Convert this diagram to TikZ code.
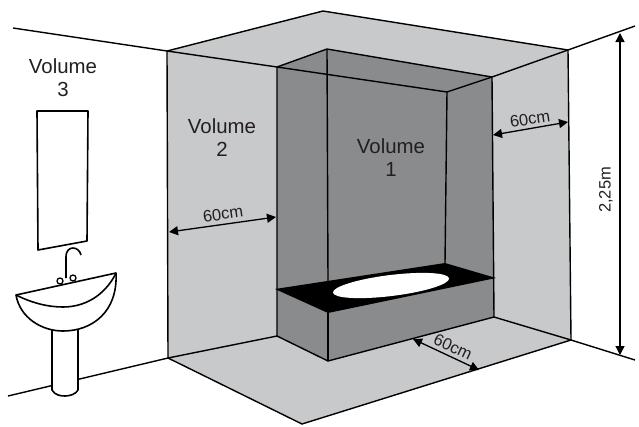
\documentclass[tikz,border=0pt]{standalone}
\usepackage{fontspec}
\setmainfont{Liberation Sans}
\usetikzlibrary{arrows.meta}
\definecolor{lightzone}{HTML}{C8C9CB}
\definecolor{darkzone}{HTML}{8A8B8D}
\definecolor{labelink}{HTML}{231F20}
\tikzset{
    wall/.style={black, line width=1.4pt, line join=miter},
    ware/.style={black, line width=1.6pt, line join=round},
    dim/.style={black, line width=1.3pt, {Triangle[length=9pt,width=9pt]}-{Triangle[length=9pt,width=9pt]}},
    vollabel/.style={text=labelink, align=center, font=\fontsize{20.4}{23}\selectfont},
    dimlabel/.style={text=labelink, inner sep=0pt, font=\fontsize{16.5}{19}\selectfont}
}
\begin{document}
\begin{tikzpicture}[x=1pt,y=-1pt]
    \useasboundingbox (0,0) rectangle (639,426);
    % room corners
    \coordinate (cl) at (167,51);
    \coordinate (cb) at (323,11);
    \coordinate (cr) at (568,50);
    \coordinate (fl) at (168,358);
    \coordinate (ff) at (302,424);
    \coordinate (fr) at (571,340);
    % volume 1 corners
    \coordinate (vl) at (277,67);
    \coordinate (vb) at (327,49);
    \coordinate (vr) at (492,77);
    \coordinate (vf) at (447,92);
    \coordinate (bl) at (277,336);
    \coordinate (bf) at (328,361);
    \coordinate (br) at (494,317);
    % bath top
    \coordinate (tl) at (275,289);
    \coordinate (tf) at (328,313);
    \coordinate (tr) at (496,278);
    \coordinate (tb) at (445,263);
    % flat faces
    \fill[lightzone] (cl) -- (cb) -- (cr) -- (fr) -- (ff) -- (fl) -- cycle;
    \fill[darkzone] (vl) -- (vb) -- (vr) -- (br) -- (bf) -- (bl) -- cycle;
    \fill[black] (tl) -- (tf) -- (tr) -- (tb) -- cycle;
    \fill[white] (391,285.5) ellipse [x radius=58.5, y radius=10.5, rotate=7];
    % room lines
    \draw[wall] (13,28) -- (cl) -- (vl) -- (vf);
    \draw[wall] (cl) -- (cb) -- (cr);
    \draw[wall] (vl) -- (vb) -- (vr);
    \draw[wall] (vf) -- (vr) -- (cr) -- (635,26);
    \draw[wall] (cl) -- (fl);
    \draw[wall] (cr) -- (fr);
    \draw[wall] (8,396) -- (fl) -- (bl);
    \draw[wall] (fl) -- (ff) -- (fr);
    \draw[wall] (br) -- (fr) -- (635,360);
    % volume 1 lines
    \draw[wall] (vl) -- (bl) -- (bf) -- (br) -- (vr);
    \draw[wall] (vb) -- (328,281);
    \draw[wall] (vf) -- (tb);
    \draw[wall] (tf) -- (bf);
    % mirror
    \draw[ware, fill=white] (37,111) -- (88,111) -- (87,241) -- (38,250) -- cycle;
    % basin
    \draw[ware, fill=white] (52,330) -- (52,390) .. controls (55,395) and (60,396) .. (65,396)
        .. controls (70,396) and (76,394) .. (78,390) -- (78,330);
    \draw[ware] (66,278) -- (66,257) .. controls (66,250) and (70,248) .. (73,248)
        .. controls (77,248) and (80,251) .. (81,255);
    \draw[ware, fill=white] (16,295) .. controls (20,318) and (42,331) .. (63,331)
        .. controls (92,331) and (118,312) .. (116,273) -- cycle;
    \draw[ware] (16,295) .. controls (32,303) and (48,307) .. (63,307)
        .. controls (90,307) and (108,290) .. (116,273);
    \foreach \kx/\ky in {60/281,73/278} {
        \draw[ware, line width=1.3pt, fill=white] (\kx,\ky) circle (3);
    }
    % dimensions
    \coordinate (al) at (169,232);
    \coordinate (ar) at (276,217);
    \coordinate (dl) at (493,135);
    \coordinate (dr) at (568,122);
    \coordinate (el) at (413,339);
    \coordinate (er) at (479,370);
    \coordinate (ht) at (620,33);
    \coordinate (hb) at (620,355);
    \draw[dim] (al) -- (ar);
    \draw[dim] (dl) -- (dr);
    \draw[dim] (el) -- (er);
    \draw[dim] (ht) -- (hb);
    \node[dimlabel, rotate=8] (leftdim) at (223,214) {60cm};
    \node[dimlabel, rotate=8] (rightdim) at (530,119) {60cm};
    \node[dimlabel, rotate=-25] (frontdim) at (453,347) {60cm};
    \node[dimlabel, rotate=90] (heightdim) at (606,190) {2,25m};
    % zone names
    \node[vollabel] (vol3) at (63,78) {Volume\\3};
    \node[vollabel] (vol2) at (222,138) {Volume\\2};
    \node[vollabel] (vol1) at (391,158) {Volume\\1};
\end{tikzpicture}
\end{document}
